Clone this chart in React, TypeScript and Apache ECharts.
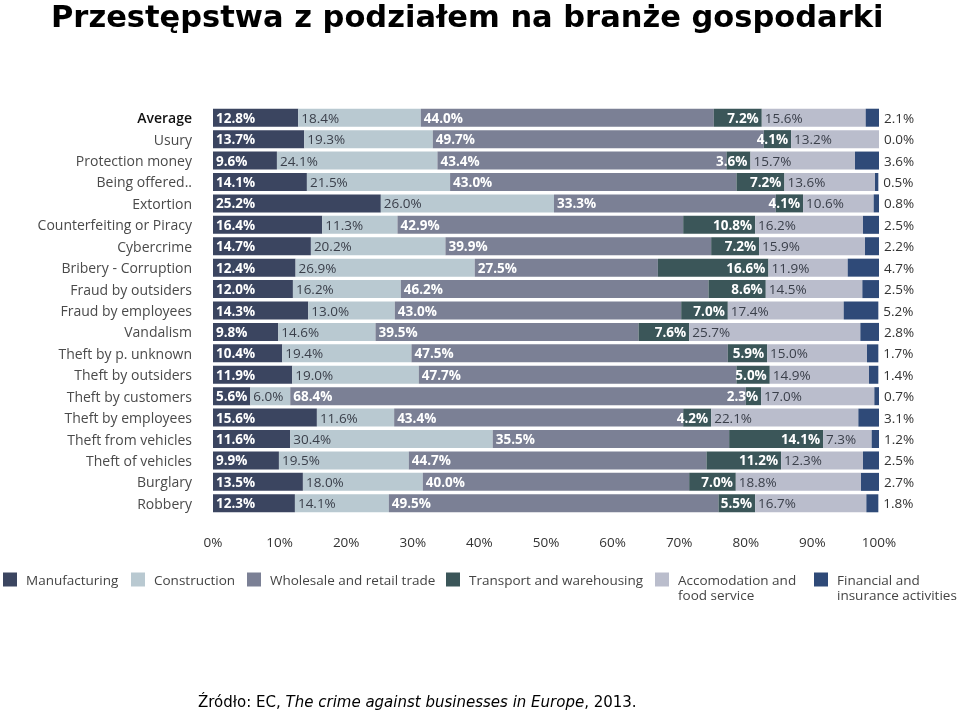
import React, { useEffect, useRef } from "react";
import * as echarts from "echarts";

const categories = [
  "Average", "Usury", "Protection money", "Being offered..", "Extortion",
  "Counterfeiting or Piracy", "Cybercrime", "Bribery - Corruption", "Fraud by outsiders",
  "Fraud by employees", "Vandalism", "Theft by p. unknown", "Theft by outsiders",
  "Theft by customers", "Theft by employees", "Theft from vehicles", "Theft of vehicles",
  "Burglary", "Robbery",
];
const seriesNames = [
  "Manufacturing", "Construction", "Wholesale and retail trade",
  "Transport and warehousing", "Accomodation and food service", "Financial and insurance activities",
];
const manufacturing = [12.8, 13.7, 9.6, 14.1, 25.2, 16.4, 14.7, 12.4, 12.0, 14.3, 9.8, 10.4, 11.9, 5.6, 15.6, 11.6, 9.9, 13.5, 12.3];
const construction = [18.4, 19.3, 24.1, 21.5, 26.0, 11.3, 20.2, 26.9, 16.2, 13.0, 14.6, 19.4, 19.0, 6.0, 11.6, 30.4, 19.5, 18.0, 14.1];
const wholesale = [44.0, 49.7, 43.4, 43.0, 33.3, 42.9, 39.9, 27.5, 46.2, 43.0, 39.5, 47.5, 47.7, 68.4, 43.4, 35.5, 44.7, 40.0, 49.5];
const transport = [7.2, 4.1, 3.6, 7.2, 4.1, 10.8, 7.2, 16.6, 8.6, 7.0, 7.6, 5.9, 5.0, 2.3, 4.2, 14.1, 11.2, 7.0, 5.5];
const accommodation = [15.6, 13.2, 15.7, 13.6, 10.6, 16.2, 15.9, 11.9, 14.5, 17.4, 25.7, 15.0, 14.9, 17.0, 22.1, 7.3, 12.3, 18.8, 16.7];
const financial = [2.1, 0.0, 3.6, 0.5, 0.8, 2.5, 2.2, 4.7, 2.5, 5.2, 2.8, 1.7, 1.4, 0.7, 3.1, 1.2, 2.5, 2.7, 1.8];
const xTicks = [0, 10, 20, 30, 40, 50, 60, 70, 80, 90, 100];

const colors = ["#3b4560", "#b9c9d1", "#7b8095", "#3b5659", "#babdcc", "#2f4a78"];
const legendLabels = [
  "Manufacturing", "Construction", "Wholesale and retail trade",
  "Transport and warehousing", "Accomodation and\nfood service", "Financial and\ninsurance activities",
];
const legendLeft = [3, 131, 247, 446, 655, 814];

export default function App() {
  const ref = useRef<HTMLDivElement>(null);
  useEffect(() => {
    if (!ref.current) return;
    const chart = echarts.init(ref.current, null, { renderer: "svg" });
    const font = "'Open Sans', sans-serif";
    const dataSets = [manufacturing, construction, wholesale, transport, accommodation, financial];
    const labelCfg = [
      { position: "insideLeft", color: "#ffffff", fontWeight: "bold" },
      { position: "insideLeft", color: "#3a3f4a", fontWeight: "normal" },
      { position: "insideLeft", color: "#ffffff", fontWeight: "bold" },
      { position: "insideRight", color: "#ffffff", fontWeight: "bold" },
      { position: "insideLeft", color: "#3a3f4a", fontWeight: "normal" },
      { position: "right", color: "#333333", fontWeight: "normal" },
    ];
    const series = dataSets.map((d, i) => ({
      name: seriesNames[i],
      type: "bar",
      stack: "total",
      data: d,
      barWidth: 18,
      itemStyle: { color: colors[i] },
      label: {
        show: true,
        position: labelCfg[i].position,
        distance: i === 5 ? 5 : 3,
        color: labelCfg[i].color,
        fontWeight: labelCfg[i].fontWeight,
        fontFamily: font,
        fontSize: 13.5,
        formatter: (p: any) => p.value.toFixed(1) + "%",
      },
    }));
    const legends = seriesNames.map((n, i) => {
      const two = legendLabels[i].includes("\n");
      return {
        data: [n],
        left: legendLeft[i],
        top: two ? 557 : 572,
        orient: "horizontal",
        itemWidth: 14,
        itemHeight: 14,
        icon: "rect",
        selectedMode: false,
        padding: 0,
        formatter: () => (two ? "\n" + legendLabels[i] : legendLabels[i]),
        textStyle: {
          fontFamily: font,
          fontSize: 13.5,
          color: "#444",
          lineHeight: 15,
          padding: [0, 0, 0, 4],
        },
      };
    });
    chart.setOption({
      animation: false,
      color: colors,
      grid: { left: 213, right: 81, top: 107, bottom: 199, containLabel: false },
      xAxis: {
        type: "value",
        min: xTicks[0],
        max: xTicks[xTicks.length - 1],
        interval: 10,
        axisLine: { show: false },
        axisTick: { show: false },
        splitLine: { show: false },
        axisLabel: {
          margin: 21,
          color: "#333",
          fontFamily: font,
          fontSize: 13.5,
          formatter: "{value}%",
        },
      },
      yAxis: {
        type: "category",
        inverse: true,
        data: categories,
        axisLine: { show: false },
        axisTick: { show: false },
        axisLabel: {
          margin: 21,
          color: "#4a4a4a",
          fontFamily: font,
          fontSize: 14,
          formatter: (v: string) => (v === "Average" ? `{b|${v}}` : v),
          rich: { b: { color: "#111", fontWeight: 600, fontFamily: font, fontSize: 14 } },
        },
      },
      legend: legends,
      title: {
        text: "Przestępstwa z podziałem na branże gospodarki",
        left: 51,
        top: 1,
        padding: 0,
        textStyle: { fontFamily: "'DejaVu Sans', sans-serif", fontWeight: "bold", fontSize: 30.5, color: "#000" },
      },
      graphic: [
        {
          type: "text",
          left: 198,
          top: 694,
          style: {
            text: "Źródło: EC, {i|The crime against businesses in Europe}, 2013.",
            fontFamily: "'DejaVu Sans', sans-serif",
            fontSize: 15,
            fill: "#000",
            rich: { i: { fontStyle: "italic", fontFamily: "'DejaVu Sans', sans-serif", fontSize: 15, fill: "#000" } },
          },
        },
      ],
      series,
    });
    return () => chart.dispose();
  }, []);
  return <div ref={ref} style={{ position: "fixed", left: 0, top: 0, width: 960, height: 713 }} />;
}
